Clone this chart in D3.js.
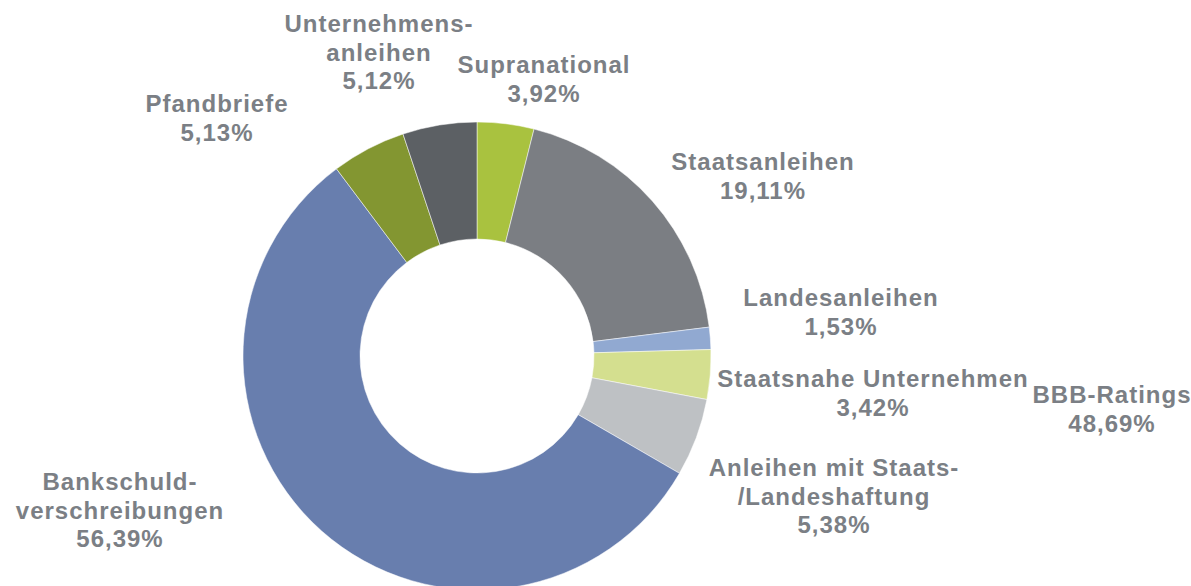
<!DOCTYPE html>
<html>
<head>
<meta charset="utf-8">
<script src="https://cdn.jsdelivr.net/npm/d3@7"></script>
<style>
  body { margin: 0; background: #fff; }
  #chart text { font-family: "Liberation Sans", Arial, sans-serif; font-weight: bold; fill: #7b7f85; }
</style>
</head>
<body>
<div id="chart"></div>
<script>
// slice data, clockwise from 12 o'clock
var categories = ["Supranational", "Staatsanleihen", "Landesanleihen", "Staatsnahe Unternehmen",
    "Anleihen mit Staats-/Landeshaftung", "Bankschuldverschreibungen", "Pfandbriefe", "Unternehmensanleihen"];
var shares = [3.92, 19.11, 1.53, 3.42, 5.38, 56.39, 5.13, 5.12];
var sliceColors = ["#a9c23f", "#7b7e83", "#91a9d1", "#d4df8f", "#bec1c4", "#687eae", "#839631", "#5c6064"];

// label lines as shown on the chart
var labelLines = [
    ["Supranational", "3,92%"],
    ["Staatsanleihen", "19,11%"],
    ["Landesanleihen", "1,53%"],
    ["Staatsnahe Unternehmen", "3,42%"],
    ["Anleihen mit Staats-", "/Landeshaftung", "5,38%"],
    ["Bankschuld-", "verschreibungen", "56,39%"],
    ["Pfandbriefe", "5,13%"],
    ["Unternehmens-", "anleihen", "5,12%"]
];
// extra note without slice
var extraLabel = ["BBB-Ratings", "48,69%"];

function init() {
    var w = 1191, h = 586;
    var cx = 477, cy = 356, outerR = 234, innerR = 117;

    // label anchor points (centre x, first baseline y)
    var labelPos = [
        [544, 73], [763, 170], [841, 306], [873, 387],
        [834, 476], [120, 490], [217, 112], [379, 32]
    ];
    var extraPos = [1112, 403];
    var lineH = 28.5;

    var svg = d3.select("#chart")
        .append("svg")
        .attr("width", w)
        .attr("height", h);

    var pie = d3.pie().sort(null).value(d => d);
    var arc = d3.arc().innerRadius(innerR).outerRadius(outerR);

    var color = d3.scaleOrdinal().domain(categories).range(sliceColors);

    // donut slices
    svg.append("g")
        .attr("transform", `translate(${cx},${cy})`)
        .selectAll("path")
        .data(pie(shares))
        .enter()
        .append("path")
        .attr("d", arc)
        .attr("fill", (d, i) => color(categories[i]))
        .attr("stroke", "#ffffff")
        .attr("stroke-width", 0.5);

    // labels
    function addLabel(lines, pos) {
        var t = svg.append("text")
            .attr("text-anchor", "middle")
            .style("font-size", "24px")
            .style("letter-spacing", "1px");
        lines.forEach((s, j) => {
            t.append("tspan")
                .attr("x", pos[0])
                .attr("y", pos[1] + j * lineH)
                .text(s);
        });
    }
    labelLines.forEach((lines, i) => addLabel(lines, labelPos[i]));
    addLabel(extraLabel, extraPos);
}

window.onload = init;
</script>
</body>
</html>
